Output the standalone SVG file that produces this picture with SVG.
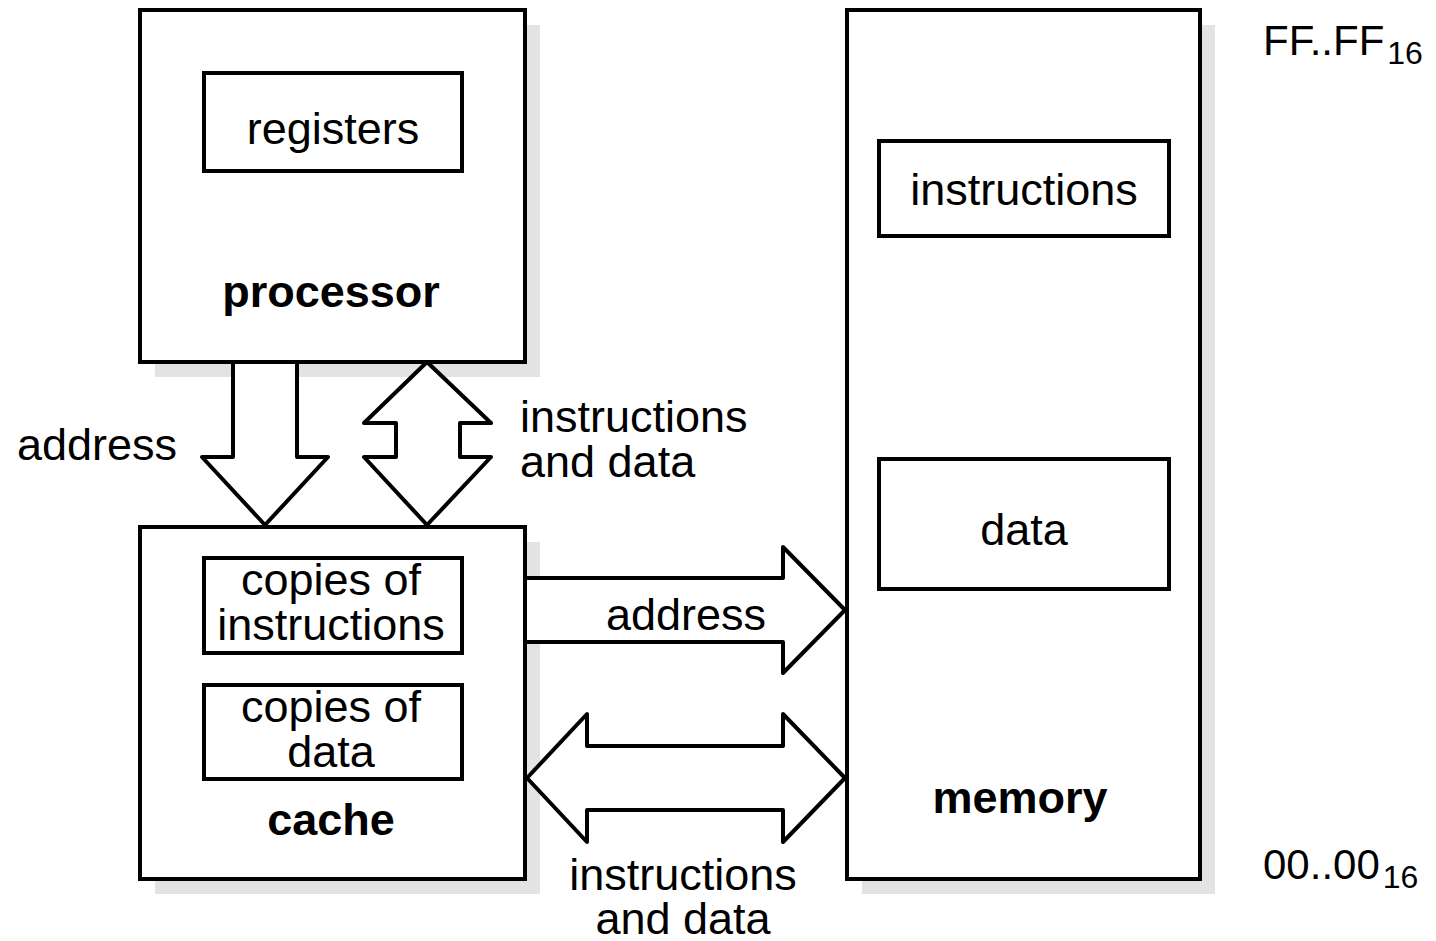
<svg xmlns="http://www.w3.org/2000/svg" width="1436" height="941" viewBox="0 0 1436 941">
<style>
.sh{fill:#e3e3e3;stroke:none}
.box{fill:#fff;stroke:#000;stroke-width:4}
.arr{fill:#fff;stroke:#000;stroke-width:4;stroke-linejoin:round}
text{font-family:"Liberation Sans",Arial,sans-serif;font-size:45px;fill:#000}
.c{text-anchor:middle}
.b{font-weight:bold}
.addr{font-size:42px}
.sub{font-size:32px}
</style>
<rect width="1436" height="941" fill="#fff"/>
<g id="processor">
<rect class="sh" x="155" y="25" width="385" height="352"/>
<rect class="box" x="140" y="10" width="385" height="352"/>
<rect class="box" x="204" y="73" width="258" height="98"/>
<text class="c" x="333" y="144">registers</text>
<text class="c b" x="331" y="307">processor</text>
</g>
<g id="cache">
<rect class="sh" x="155" y="542" width="385" height="352"/>
<rect class="box" x="140" y="527" width="385" height="352"/>
<rect class="box" x="204" y="558" width="258" height="95"/>
<text class="c" x="331" y="595">copies of</text>
<text class="c" x="331" y="640">instructions</text>
<rect class="box" x="204" y="685" width="258" height="94"/>
<text class="c" x="331" y="722">copies of</text>
<text class="c" x="331" y="767">data</text>
<text class="c b" x="331" y="835">cache</text>
</g>
<g id="memory">
<rect class="sh" x="862" y="25" width="353" height="869"/>
<rect class="box" x="847" y="10" width="353" height="869"/>
<rect class="box" x="879" y="141" width="290" height="95"/>
<text class="c" x="1024" y="205">instructions</text>
<rect class="box" x="879" y="459" width="290" height="130"/>
<text class="c" x="1024" y="545">data</text>
<text class="c b" x="1020" y="813">memory</text>
</g>
<g id="connectors">
<path class="arr" d="M233,362 L233,457 L202,457 L265,525 L328,457 L297,457 L297,362 Z"/>
<path class="arr" d="M427,362 L491,423 L460,423 L460,457 L491,457 L427,525 L364,457 L396,457 L396,423 L364,423 Z"/>
<path class="arr" d="M525,578 L783,578 L783,547 L845,610 L783,673 L783,642 L525,642 Z"/>
<path class="arr" d="M527,778 L587,714 L587,746 L783,746 L783,714 L845,778 L783,842 L783,810 L587,810 L587,842 Z"/>
</g>
<g id="labels">
<text x="17" y="460">address</text>
<text x="520" y="432">instructions</text>
<text x="520" y="477">and data</text>
<text class="c" x="686" y="630">address</text>
<text class="c" x="683" y="890">instructions</text>
<text class="c" x="683" y="934">and data</text>
<text class="addr" x="1263" y="55">FF..FF<tspan class="sub" dx="3" dy="9">16</tspan></text>
<text class="addr" x="1263" y="879">00..00<tspan class="sub" dx="3" dy="9">16</tspan></text>
</g>
</svg>
